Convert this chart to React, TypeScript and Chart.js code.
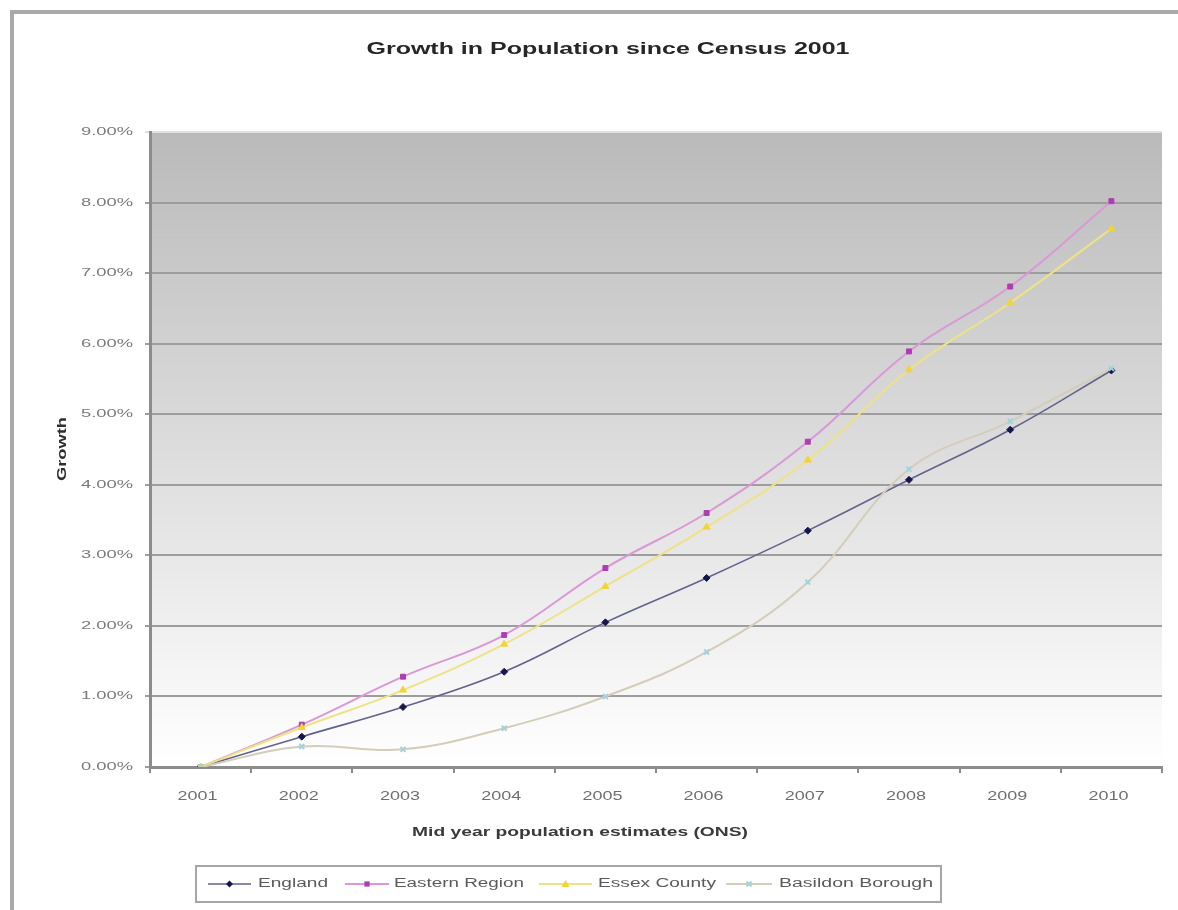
import React, { useEffect, useRef } from "react";
import { Chart, registerables } from "chart.js";

Chart.register(...registerables);

// Mid-year estimates, growth since the 2001 census (percent)
const years = ["2001", "2002", "2003", "2004", "2005", "2006", "2007", "2008", "2009", "2010"];
const england = [0, 0.43, 0.85, 1.35, 2.05, 2.68, 3.35, 4.07, 4.78, 5.62];
const easternRegion = [0, 0.6, 1.28, 1.87, 2.82, 3.6, 4.61, 5.89, 6.81, 8.02];
const essexCounty = [0, 0.56, 1.09, 1.74, 2.56, 3.4, 4.35, 5.63, 6.58, 7.63];
const basildonBorough = [0, 0.29, 0.25, 0.55, 1.0, 1.63, 2.62, 4.22, 4.9, 5.65];

const seriesNames = ["England", "Eastern Region", "Essex County", "Basildon Borough"];
const yMin = 0;
const yMax = 9;
const yStep = 1;

const titleText = "Growth in Population since Census 2001";
const xTitleText = "Mid year population estimates (ONS)";
const yTitleText = "Growth";

const FONT = "'Liberation Sans', Arial, sans-serif";

type Marker = "diamond" | "square" | "triangle" | "x";

const styles: { line: string; width: number; point: string; marker: Marker; chartStyle: string; radius: number }[] = [
  { line: "#62628c", width: 1.6, point: "#16164e", marker: "diamond", chartStyle: "rectRot", radius: 3.5 },
  { line: "#da98d7", width: 2, point: "#b03cb4", marker: "square", chartStyle: "rect", radius: 3.5 },
  { line: "#efe285", width: 2, point: "#f1d531", marker: "triangle", chartStyle: "triangle", radius: 4 },
  { line: "#d4cdb9", width: 2, point: "#a2d2dc", marker: "x", chartStyle: "crossRot", radius: 3.5 },
];

// Text drawn with a horizontal stretch so it spans a given width
function fitText(
  ctx: CanvasRenderingContext2D,
  text: string,
  x: number,
  y: number,
  font: string,
  color: string,
  width: number,
  align: CanvasTextAlign,
  rotate = false
) {
  ctx.save();
  ctx.font = font;
  const w = ctx.measureText(text).width;
  const sx = width / w;
  ctx.translate(x, y);
  if (rotate) ctx.rotate(-Math.PI / 2);
  ctx.scale(sx, 1);
  ctx.fillStyle = color;
  ctx.textAlign = align;
  ctx.textBaseline = "middle";
  ctx.fillText(text, 0, 0);
  ctx.restore();
}

function drawMarker(ctx: CanvasRenderingContext2D, m: Marker, x: number, y: number, r: number, color: string) {
  ctx.save();
  ctx.fillStyle = color;
  ctx.strokeStyle = color;
  ctx.lineWidth = 2;
  ctx.beginPath();
  if (m === "diamond") {
    ctx.moveTo(x, y - r);
    ctx.lineTo(x + r, y);
    ctx.lineTo(x, y + r);
    ctx.lineTo(x - r, y);
    ctx.closePath();
    ctx.fill();
  } else if (m === "square") {
    ctx.rect(x - r * 0.75, y - r * 0.75, r * 1.5, r * 1.5);
    ctx.fill();
  } else if (m === "triangle") {
    ctx.moveTo(x, y - r);
    ctx.lineTo(x + r, y + r * 0.75);
    ctx.lineTo(x - r, y + r * 0.75);
    ctx.closePath();
    ctx.fill();
  } else {
    ctx.moveTo(x - r * 0.7, y - r * 0.7);
    ctx.lineTo(x + r * 0.7, y + r * 0.7);
    ctx.moveTo(x + r * 0.7, y - r * 0.7);
    ctx.lineTo(x - r * 0.7, y + r * 0.7);
    ctx.stroke();
  }
  ctx.restore();
}

const decorations = {
  id: "decorations",
  beforeDraw(chart: any) {
    const { ctx, chartArea: a } = chart;
    ctx.save();
    ctx.fillStyle = "#ffffff";
    ctx.fillRect(0, 0, chart.width, chart.height);
    // outer frame (top and left edges visible)
    ctx.strokeStyle = "#a9a9a9";
    ctx.lineWidth = 4;
    ctx.beginPath();
    ctx.moveTo(12, chart.height + 10);
    ctx.lineTo(12, 12);
    ctx.lineTo(chart.width + 10, 12);
    ctx.stroke();
    // plot area shading
    const g = ctx.createLinearGradient(0, a.top, 0, a.bottom);
    g.addColorStop(0, "#bababa");
    g.addColorStop(1, "#ffffff");
    ctx.fillStyle = g;
    ctx.fillRect(a.left, a.top, a.right - a.left, a.bottom - a.top);
    ctx.restore();
  },
  afterDraw(chart: any) {
    const { ctx } = chart;
    const xs = chart.scales.x;
    const ys = chart.scales.y;

    // title
    fitText(ctx, titleText, 608, 50, `bold 16px ${FONT}`, "#262626", 483, "center");

    // y tick labels
    ys.ticks.forEach((t: any, i: number) => {
      const py = ys.getPixelForTick(i);
      const label = `${Number(t.value).toFixed(2)}%`;
      fitText(ctx, label, 133, py, `11px ${FONT}`, "#7a7a7a", 52, "right");
    });

    // x tick labels
    xs.ticks.forEach((_t: any, i: number) => {
      const px = xs.getPixelForTick(i);
      fitText(ctx, years[i], px - 3, 797, `12px ${FONT}`, "#6e6e6e", 40, "center");
    });

    // axis titles
    fitText(ctx, xTitleText, 580, 832, `bold 13px ${FONT}`, "#3a3a3a", 336, "center");
    fitText(ctx, yTitleText, 62, 449, `bold 13px ${FONT}`, "#2e2e2e", 64, "center", true);

    // legend
    ctx.save();
    ctx.fillStyle = "#ffffff";
    ctx.fillRect(196, 866, 745, 36);
    ctx.strokeStyle = "#a6a6a6";
    ctx.lineWidth = 2;
    ctx.strokeRect(196, 866, 745, 36);
    ctx.restore();
    const ly = 884;
    const entries = [
      { x1: 208, x2: 251, tx: 258, tw: 70 },
      { x1: 345, x2: 389, tx: 394, tw: 130 },
      { x1: 539, x2: 592, tx: 598, tw: 118 },
      { x1: 726, x2: 772, tx: 779, tw: 154 },
    ];
    entries.forEach((e, i) => {
      const s = styles[i];
      ctx.save();
      ctx.strokeStyle = s.line;
      ctx.lineWidth = s.width;
      ctx.beginPath();
      ctx.moveTo(e.x1, ly);
      ctx.lineTo(e.x2, ly);
      ctx.stroke();
      ctx.restore();
      drawMarker(ctx, s.marker, (e.x1 + e.x2) / 2, ly, s.radius, s.point);
      fitText(ctx, seriesNames[i], e.tx, ly, `12px ${FONT}`, "#5a5a5a", e.tw, "left");
    });
  },
};

export default function App() {
  const ref = useRef<HTMLCanvasElement>(null);

  useEffect(() => {
    const seriesData = [england, easternRegion, essexCounty, basildonBorough];
    const chart = new Chart(ref.current!, {
      type: "line",
      data: {
        labels: years,
        datasets: seriesData.map((d, i) => ({
          label: seriesNames[i],
          data: d,
          borderColor: styles[i].line,
          borderWidth: styles[i].width,
          backgroundColor: styles[i].point,
          pointBackgroundColor: styles[i].point,
          pointBorderColor: styles[i].point,
          pointBorderWidth: styles[i].marker === "x" ? 2 : 1,
          pointStyle: styles[i].chartStyle as any,
          pointRadius: styles[i].radius,
          tension: 0.4,
          fill: false,
          order: 3 - i,
        })),
      },
      options: {
        responsive: false,
        animation: false,
        devicePixelRatio: 1,
        layout: { padding: { left: 0, top: 132, right: 16, bottom: 103 } },
        plugins: {
          legend: { display: false },
          title: { display: false },
          tooltip: { enabled: false },
        },
        scales: {
          x: {
            type: "category",
            offset: true,
            ticks: { display: false },
            grid: {
              offset: true,
              drawOnChartArea: false,
              drawTicks: true,
              tickLength: 6,
              color: "#8c8c8c",
              lineWidth: 2,
            },
            border: { display: true, color: "#8c8c8c", width: 3 },
            afterFit: (s: any) => {
              s.height = 40;
            },
          },
          y: {
            min: yMin,
            max: yMax,
            ticks: { display: false, stepSize: yStep },
            grid: {
              drawTicks: true,
              tickLength: 5,
              lineWidth: 2,
              color: (c: any) => (c.tick && c.tick.value === yMax ? "#e0e0e0" : "#9d9d9d"),
            },
            border: { display: true, color: "#8c8c8c", width: 3 },
            afterFit: (s: any) => {
              s.width = 150;
            },
          },
        },
      },
      plugins: [decorations],
    });
    return () => chart.destroy();
  }, []);

  return (
    <div style={{ position: "absolute", left: 0, top: 0, width: 1178, height: 910 }}>
      <canvas ref={ref} width={1178} height={910} style={{ display: "block" }} />
    </div>
  );
}
